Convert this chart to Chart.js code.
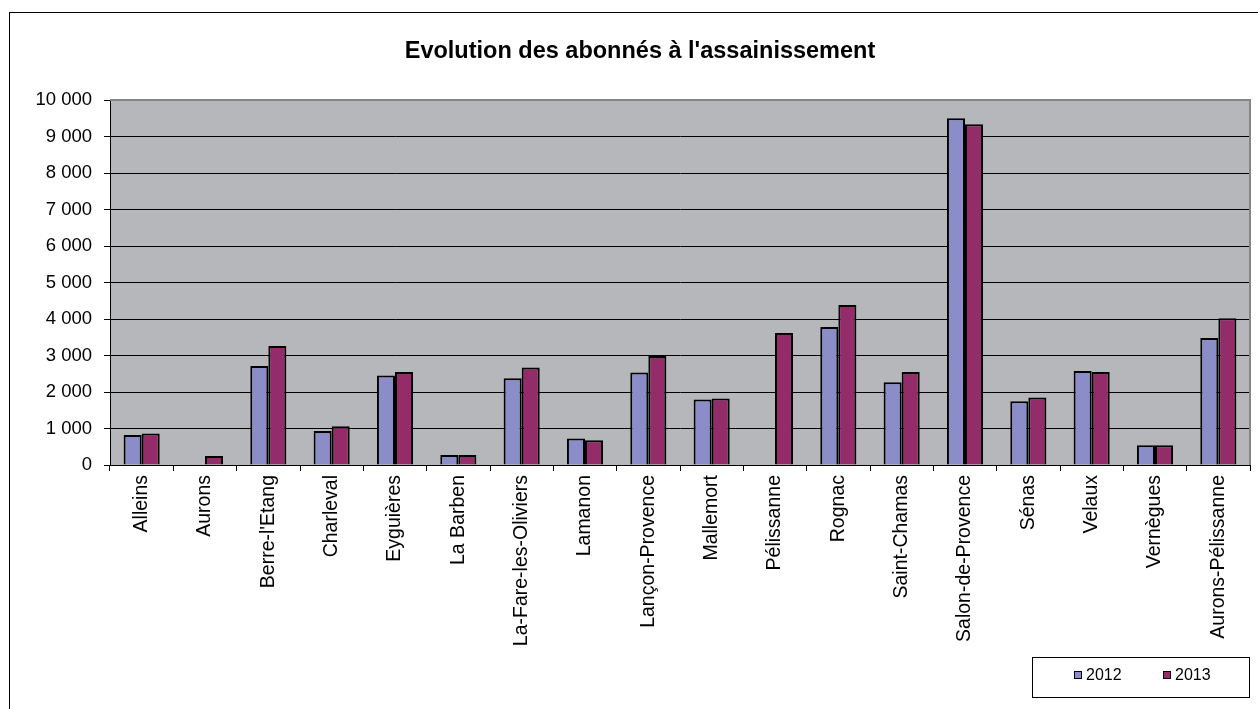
<!DOCTYPE html>
<html lang="fr">
<head>
  <meta charset="UTF-8">
  <title>Evolution des abonnés à l'assainissement</title>
  <script src="https://cdn.jsdelivr.net/npm/chart.js@4.4.1/dist/chart.umd.min.js"></script>
  <style>
    * { box-sizing: border-box; margin: 0; padding: 0; }
    html, body { width: 1258px; height: 709px; overflow: hidden; background: #fff; }
    .chart-container { position: relative; width: 1258px; height: 709px; }
  </style>
</head>
<body>
  <div class="chart-container">
    <canvas id="chart" width="1258" height="709"></canvas>
  </div>

  <script>
    const communes = ['Alleins', 'Aurons', "Berre-l'Etang", 'Charleval', 'Eyguières', 'La Barben',
      'La-Fare-les-Oliviers', 'Lamanon', 'Lançon-Provence', 'Mallemort', 'Pélissanne', 'Rognac',
      'Saint-Chamas', 'Salon-de-Provence', 'Sénas', 'Velaux', 'Vernègues', 'Aurons-Pélissanne'];
    const abonnes2012 = [822, null, 2712, 931, 2449, 274, 2375, 723, 2531, 1792, null, 3781,
      2266, 9499, 1745, 2575, 540, 3479];
    const abonnes2013 = [860, 247, 3260, 1060, 2548, 274, 2668, 677, 2986, 1819, 3616, 4384,
      2548, 9334, 1847, 2548, 540, 4019];
    const yTicks = [0, 1000, 2000, 3000, 4000, 5000, 6000, 7000, 8000, 9000, 10000];

    const FONT = "'Liberation Sans', Arial, sans-serif";

    // fond gris + cadre de la zone de tracé, cadre extérieur, légende encadrée
    const excelFrame = {
      id: 'excelFrame',
      beforeDraw(chart) {
        const { ctx, chartArea: a } = chart;
        ctx.save();
        ctx.fillStyle = '#B6B7BB';
        ctx.fillRect(a.left, a.top, a.right - a.left, a.bottom - a.top);
        ctx.strokeStyle = '#000';
        ctx.lineWidth = 1;
        ctx.strokeRect(9.5, 12.5, 1400, 900);
        ctx.restore();
      },
      afterDraw(chart) {
        const { ctx, chartArea: a } = chart;
        ctx.save();
        // bord haut/droit gris
        ctx.strokeStyle = '#858585';
        ctx.lineWidth = 2;
        ctx.beginPath();
        ctx.moveTo(a.left, a.top);
        ctx.lineTo(a.right, a.top);
        ctx.lineTo(a.right, a.bottom);
        ctx.stroke();

        // légende
        ctx.strokeStyle = '#000';
        ctx.lineWidth = 1;
        ctx.strokeRect(1032.5, 657.5, 217, 40);
        ctx.font = '16px ' + FONT;
        ctx.textBaseline = 'middle';
        const xs = [1074, 1163];
        chart.data.datasets.forEach((ds, i) => {
          ctx.fillStyle = ds.backgroundColor;
          ctx.fillRect(xs[i] + 0.5, 671.5, 7, 7);
          ctx.strokeRect(xs[i] + 0.5, 671.5, 7, 7);
          ctx.fillStyle = '#000';
          ctx.fillText(ds.label, xs[i] + 12, 676);
        });
        ctx.restore();
      }
    };

    new Chart(document.getElementById('chart'), {
      type: 'bar',
      data: {
        labels: communes,
        datasets: [
          {
            label: '2012',
            data: abonnes2012,
            backgroundColor: '#8A8DC7',
            borderColor: '#000',
            borderWidth: 2,
            categoryPercentage: 0.57,
            barPercentage: 1.0,
          },
          {
            label: '2013',
            data: abonnes2013,
            backgroundColor: '#932C68',
            borderColor: '#000',
            borderWidth: 2,
            categoryPercentage: 0.57,
            barPercentage: 1.0,
          }
        ]
      },
      options: {
        responsive: false,
        animation: false,
        devicePixelRatio: 1,
        layout: { padding: { left: 30, right: 8, top: 0, bottom: 0 } },
        plugins: {
          legend: { display: false },
          tooltip: { enabled: false },
          title: {
            display: true,
            text: "Evolution des abonnés à l'assainissement",
            color: '#000',
            font: { family: FONT, size: 23.5, weight: 'bold' },
            padding: { top: 37, bottom: 34.8 },
          }
        },
        scales: {
          x: {
            afterFit: scale => { scale.height = 244; },
            ticks: {
              color: '#000',
              font: { family: FONT, size: 19.5 },
              minRotation: 90,
              maxRotation: 90,
              autoSkip: false,
              padding: 4,
            },
            grid: { drawOnChartArea: false, drawTicks: true, tickLength: 6, color: '#000' },
            border: { color: '#000', width: 1 },
          },
          y: {
            min: 0,
            max: 10000,
            afterFit: scale => { scale.width = 80; },
            afterBuildTicks: scale => { scale.ticks = yTicks.map(v => ({ value: v })); },
            ticks: {
              color: '#000',
              font: { family: FONT, size: 18.5 },
              padding: 12,
              callback: v => String(v).replace(/\B(?=(\d{3})+(?!\d))/g, ' '),
            },
            grid: {
              color: ctx => (ctx.tick && ctx.tick.value === 10000) ? '#858585' : '#000',
              tickColor: '#000',
              tickLength: 6,
              lineWidth: 1,
            },
            border: { color: '#000', width: 1 },
          }
        }
      },
      plugins: [excelFrame]
    });
  </script>
</body>
</html>
